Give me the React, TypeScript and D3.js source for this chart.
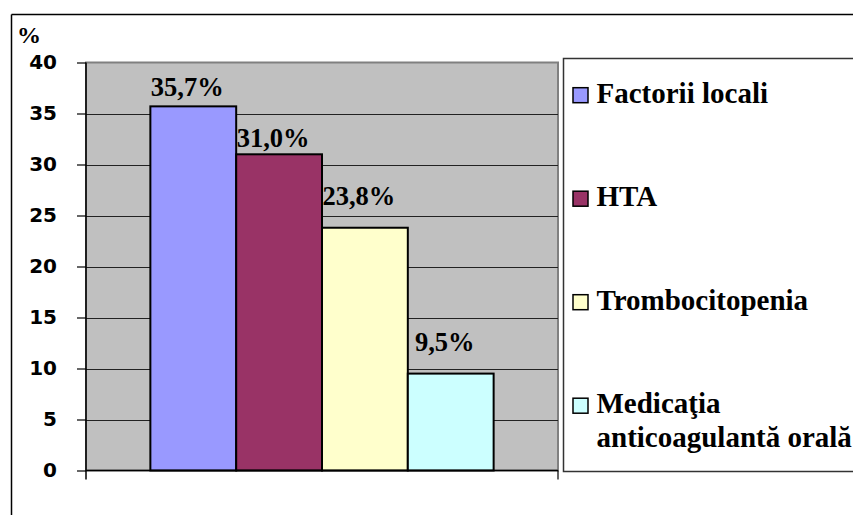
import React, { useRef, useEffect } from "react";
import * as d3 from "d3";

// ─── data ──────────────────────────────────────────────────────────────
const series = ["Factorii locali", "HTA", "Trombocitopenia", "Medicaţia anticoagulantă orală"];
const values = [35.7, 31.0, 23.8, 9.5];
const valueLabels = ["35,7%", "31,0%", "23,8%", "9,5%"];
const labelGap = [10, 7, 23, 23]; // labels were nudged by hand in the original
const colors = ["#9999FF", "#993366", "#FFFFCC", "#CCFFFF"];
const yTicks = [0, 5, 10, 15, 20, 25, 30, 35, 40];

const W = 853;
const H = 515;
const SERIF = '"Liberation Serif", Tinos, "Times New Roman", Times, serif';
const SANS = '"DejaVu Sans", Tahoma, Verdana, sans-serif';

const App = () => {
  const svgRef = useRef<SVGSVGElement>(null);

  useEffect(() => {
    const svg = d3.select(svgRef.current);
    svg.selectAll("*").remove();

    const plotLeft = 86;
    const plotRight = 558;
    const plotTop = 62.5;
    const plotBottom = 470.5;

    const x = d3.scaleBand<string>()
      .domain(series)
      .range([plotLeft, plotRight])
      .paddingInner(0)
      .paddingOuter(0.75);

    const y = d3.scaleLinear().domain([0, 40]).range([plotBottom, plotTop]);

    // outer chart frame (runs off the right and bottom of the picture)
    svg.append("line")
      .attr("x1", 11.5).attr("y1", 14.5).attr("x2", W).attr("y2", 14.5)
      .attr("stroke", "#000").attr("stroke-width", 1.5);
    svg.append("line")
      .attr("x1", 11.5).attr("y1", 14.5).attr("x2", 11.5).attr("y2", H)
      .attr("stroke", "#000").attr("stroke-width", 1.5);

    // plot area
    svg.append("rect")
      .attr("x", plotLeft).attr("y", plotTop)
      .attr("width", plotRight - plotLeft).attr("height", plotBottom - plotTop)
      .attr("fill", "#C0C0C0")
      .attr("stroke", "#808080").attr("stroke-width", 2);

    // grid
    svg.append("g")
      .selectAll("line")
      .data(yTicks.filter((d) => d > 0 && d < 40))
      .join("line")
      .attr("x1", plotLeft).attr("x2", plotRight)
      .attr("y1", (d) => Math.round(y(d)) + 0.5).attr("y2", (d) => Math.round(y(d)) + 0.5)
      .attr("stroke", "#222").attr("stroke-width", 1);

    // bars
    svg.append("g")
      .selectAll("rect")
      .data(values)
      .join("rect")
      .attr("x", (_, i) => x(series[i])!)
      .attr("y", (d) => y(d))
      .attr("width", x.bandwidth())
      .attr("height", (d) => y(0) - y(d))
      .attr("fill", (_, i) => colors[i])
      .attr("stroke", "#000").attr("stroke-width", 2);

    // value labels
    svg.append("g")
      .selectAll("text")
      .data(values)
      .join("text")
      .attr("x", (_, i) => x(series[i])! + x.bandwidth() / 2 - 6)
      .attr("y", (d, i) => y(d) - labelGap[i])
      .attr("text-anchor", "middle")
      .style("font-family", SERIF)
      .style("font-weight", "bold")
      .style("font-size", "26.5px")
      .attr("fill", "#000")
      .text((_, i) => valueLabels[i]);

    // y axis
    const yAxis = svg.append("g")
      .attr("transform", `translate(${plotLeft},0)`)
      .call(d3.axisLeft(y).tickValues(yTicks).tickSize(9).tickPadding(20).tickFormat(d3.format("d")));
    yAxis.select(".domain").remove();
    yAxis.selectAll(".tick line").attr("stroke", "#000").attr("stroke-width", 1.2);
    yAxis.selectAll("text")
      .style("font-family", SANS)
      .style("font-weight", "bold")
      .style("font-size", "20px")
      .attr("fill", "#000");

    svg.append("line")
      .attr("x1", plotLeft).attr("x2", plotLeft)
      .attr("y1", plotTop).attr("y2", plotBottom + 9)
      .attr("stroke", "#000").attr("stroke-width", 1.5);

    // x axis: baseline with tick marks at the category edges
    svg.append("line")
      .attr("x1", plotLeft).attr("x2", plotRight)
      .attr("y1", plotBottom).attr("y2", plotBottom)
      .attr("stroke", "#000").attr("stroke-width", 1.5);
    svg.append("line")
      .attr("x1", plotRight).attr("x2", plotRight)
      .attr("y1", plotBottom).attr("y2", plotBottom + 9)
      .attr("stroke", "#000").attr("stroke-width", 1.2);

    svg.append("text")
      .attr("x", 17).attr("y", 43)
      .style("font-family", SERIF)
      .style("font-weight", "bold")
      .style("font-size", "24px")
      .text("%");

    // legend
    const legX = 563.5;
    const legY = 58.5;
    svg.append("rect")
      .attr("x", legX).attr("y", legY)
      .attr("width", W - legX + 10).attr("height", 413)
      .attr("fill", "#fff")
      .attr("stroke", "#333").attr("stroke-width", 1.5);

    const leg = svg.append("g").selectAll("g").data(series).join("g")
      .attr("transform", (_, i) => `translate(${legX + 9},${102.7 + i * 103.5})`);

    leg.append("rect")
      .attr("x", 0.5).attr("y", -15)
      .attr("width", 15).attr("height", 15)
      .attr("fill", (_, i) => colors[i])
      .attr("stroke", "#000").attr("stroke-width", 1.5);

    leg.append("text")
      .attr("x", 24)
      .attr("y", 0)
      .style("font-family", SERIF)
      .style("font-weight", "bold")
      .style("font-size", "29px")
      .attr("fill", "#000")
      .each(function (d) {
        const t = d3.select(this);
        if (d.startsWith("Medica")) {
          t.append("tspan").attr("x", 24).attr("dy", 0).text("Medicaţia");
          t.append("tspan").attr("x", 24).attr("dy", 34).text("anticoagulantă orală");
        } else {
          t.text(d);
        }
      });
  }, []);

  return (
    <svg
      ref={svgRef}
      width={W}
      height={H}
      style={{ position: "absolute", left: 0, top: 0, background: "#fff" }}
    />
  );
};

export default App;
